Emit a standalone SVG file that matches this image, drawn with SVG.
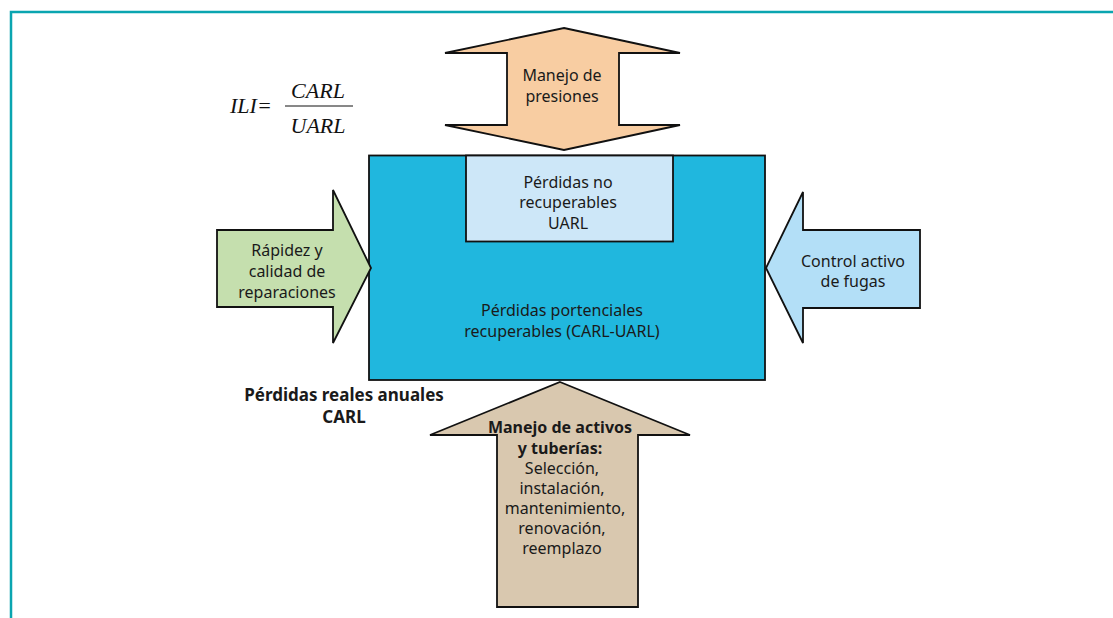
<svg xmlns="http://www.w3.org/2000/svg" width="1113" height="618" viewBox="0 0 1113 618">
<style>
.lbl{font-family:"Noto Sans","Liberation Sans",sans-serif;font-size:16px;fill:#1a1a1a;text-anchor:middle}
.b{font-weight:bold}
.shape{stroke:#111;stroke-width:1.8;stroke-linejoin:miter}
.math{font-family:"Liberation Serif","DejaVu Serif",serif;font-style:italic;font-size:22px;fill:#111}
</style>
<rect width="1113" height="618" fill="#ffffff"/>
<g id="frame">
<path d="M1113 12 H11 V618" fill="none" stroke="#0aa5b0" stroke-width="2.5"/>
</g>
<g id="formula">
<text class="math" x="230" y="113">ILI=</text>
<text class="math" x="318" y="98" text-anchor="middle">CARL</text>
<line x1="285" y1="106" x2="353" y2="106" stroke="#111" stroke-width="1"/>
<text class="math" x="318" y="133" text-anchor="middle">UARL</text>
</g>
<g id="main-box">
<rect class="shape" x="369" y="155.5" width="396" height="224.5" fill="#20b7de"/>
<text class="lbl"><tspan x="562" y="316">Pérdidas portenciales</tspan><tspan x="562" y="337">recuperables (CARL-UARL)</tspan></text>
</g>
<g id="uarl-box">
<rect class="shape" x="466" y="155.5" width="207" height="86" fill="#cde7f8"/>
<text class="lbl"><tspan x="568" y="188">Pérdidas no</tspan><tspan x="568" y="208">recuperables</tspan><tspan x="568" y="229">UARL</tspan></text>
</g>
<g id="arrow-presiones">
<path class="shape" d="M564 28 L680 53 H619 V125 H680 L564 150 L445 125 H507 V53 H445 Z" fill="#f8cda2"/>
<text class="lbl"><tspan x="562" y="81">Manejo de</tspan><tspan x="562" y="102">presiones</tspan></text>
</g>
<g id="arrow-reparaciones">
<path class="shape" d="M217 230 H333 V190 L371 268 L333 343 V307 H217 Z" fill="#c5dfae"/>
<text class="lbl"><tspan x="287" y="256">Rápidez y</tspan><tspan x="287" y="277">calidad de</tspan><tspan x="287" y="298">reparaciones</tspan></text>
</g>
<g id="arrow-fugas">
<path class="shape" d="M920 230 H803 V192 L766 268 L803 343 V308 H920 Z" fill="#b3dff7"/>
<text class="lbl"><tspan x="853" y="267">Control activo</tspan><tspan x="853" y="287">de fugas</tspan></text>
</g>
<g id="arrow-activos">
<path class="shape" d="M560 382 L690 435 H638 V607 H497 V435 H430 Z" fill="#d9c8af"/>
<text class="lbl"><tspan class="b" x="560" y="433">Manejo de activos</tspan><tspan class="b" x="560" y="454">y tuberías:</tspan><tspan x="562" y="474">Selección,</tspan><tspan x="562" y="494">instalación,</tspan><tspan x="565" y="514">mantenimiento,</tspan><tspan x="562" y="534">renovación,</tspan><tspan x="562" y="554">reemplazo</tspan></text>
</g>
<g id="carl-label">
<text class="lbl b" style="font-size:17px"><tspan x="344" y="401">Pérdidas reales anuales</tspan><tspan x="344" y="423">CARL</tspan></text>
</g>
<g id="connectors"></g>
</svg>
